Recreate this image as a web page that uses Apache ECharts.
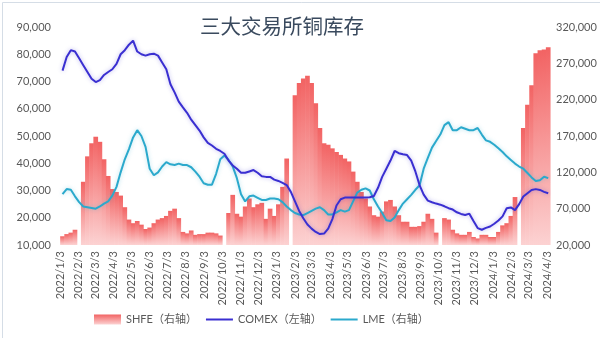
<!DOCTYPE html>
<html>
<head>
<meta charset="utf-8">
<script src="https://cdn.jsdelivr.net/npm/echarts@6/dist/echarts.min.js"></script>
<style>
  html, body { margin: 0; padding: 0; background: #fff; }
  #chart { width: 600px; height: 338px; }
</style>
</head>
<body>
<div id="chart"></div>
<script>
// Weekly observations (week ending Friday), first week ends 2022-01-07
const firstWeek = [2022, 0, 7];

// SHFE copper inventory (tonnes, right axis); null = holiday week
const shfe = [
  32000, 35000, 37000, 41000, null, 107000, 142000, 160000, 169000, 162000,
  138000, 115000, 97000, 93000, 88000, 72000, 55000, 50000, 53000, 48000,
  42000, 44000, 50000, 55000, 57000, 60000, 67000, 70000, 57000, 38000,
  36000, 40000, 34000, 35000, 35000, 37000, 37000, 36000, 33000, null,
  64000, 89000, 63000, 59000, 73000, 84000, 72000, 76000, 78000, 56000,
  70000, 60000, 76000, 100000, 139000, null, 226000, 243000, 249000, 253000,
  243000, 215000, 181000, 160000, 158000, 153000, 148000, 144000, 139000, 135000,
  121000, 107000, 93000, 84000, 73000, 61000, 59000, 66000, 80000, 82000,
  73000, 61000, 52000, 52000, 45000, 45000, 46000, 52000, 63000, 56000,
  37000, null, 57000, 55000, 41000, 36000, 34000, 34000, 38000, 31000,
  29000, 34000, 34000, 31000, 31000, 38000, 47000, 50000, 60000, 86000,
  null, 181000, 213000, 240000, 284000, 288000, 289000, 292000
];

// COMEX copper inventory (short tons, left axis)
const comex = [
  74000, 79000, 81500, 81000, 78500, 76000, 73500, 71000, 69800, 70500,
  72400, 73500, 74500, 76500, 80000, 81500, 83500, 85000, 81000, 80000,
  79500, 80000, 80200, 79500, 77000, 74500, 69000, 66000, 62600, 60500,
  58500, 56000, 54000, 52000, 49500, 47500, 46500, 45300, 44500, 43500,
  41000, 39200, 38000, 36500, 36500, 37000, 37500, 36500, 35200, 35000,
  35000, 34000, 33500, 32800, 32000, 29500, 26000, 22500, 19800, 17500,
  16000, 14800, 14000, 14200, 16000, 19500, 24500, 26800, 27400, 27400,
  27400, 27400, 27400, 27400, 27500, 28000, 31000, 35000, 38000, 41000,
  44500, 43700, 43300, 43000, 41000, 37000, 32000, 28500, 26300, 25700,
  25200, 24800, 24200, 23500, 23000, 22000, 21400, 21000, 21500, 18800,
  16200, 15600, 16300, 16800, 17800, 19000, 20500, 23500, 23800, 22800,
  25000, 27800, 29000, 30200, 30500, 30200, 29500, 29000
];

// LME copper inventory (tonnes, right axis)
const lme = [
  90000, 97000, 96000, 87000, 79000, 73000, 72000, 71000, 70000, 73000,
  77000, 80000, 88000, 100000, 120000, 138000, 152000, 168000, 178000, 170000,
  155000, 125000, 116000, 120000, 128000, 134000, 131000, 130000, 132000, 130000,
  130000, 127000, 121000, 114000, 105000, 103000, 103000, 118000, 138000, 143000,
  137000, 128000, 112000, 90000, 80000, 87000, 88000, 85000, 82000, 82000,
  84000, 84000, 83000, 79000, 73000, 68000, 64000, 62000, 61000, 64000,
  67000, 70000, 72000, 68000, 62000, 62000, 65000, 68000, 66000, 68000,
  80000, 92000, 96000, 98000, 95000, 83000, 73000, 64000, 54000, 53000,
  58000, 68000, 77000, 83000, 89000, 96000, 102000, 125000, 140000, 154000,
  163000, 172000, 185000, 189000, 178000, 178000, 182000, 180000, 178000, 178000,
  181000, 172000, 164000, 162000, 158000, 153000, 148000, 142000, 137000, 132000,
  128000, 125000, 119000, 113000, 108000, 109000, 114000, 112000
];

// X-axis tick labels
const tickLabels = [
  '2022/1/3','2022/2/3','2022/3/3','2022/4/3','2022/5/3','2022/6/3','2022/7/3',
  '2022/8/3','2022/9/3','2022/10/3','2022/11/3','2022/12/3','2023/1/3','2023/2/3',
  '2023/3/3','2023/4/3','2023/5/3','2023/6/3','2023/7/3','2023/8/3','2023/9/3',
  '2023/10/3','2023/11/3','2023/12/3','2024/1/3','2024/2/3','2024/3/3','2024/4/3'
];

const seriesNames = ['SHFE（右轴）', 'COMEX（左轴）', 'LME（右轴）'];
const titleText = '三大交易所铜库存';

function parseLabel(s) {
  const p = s.split('/').map(Number);
  return new Date(p[0], p[1] - 1, p[2]).getTime();
}
const tickValues = tickLabels.map(parseLabel);
const dates = shfe.map((_, i) => new Date(firstWeek[0], firstWeek[1], firstWeek[2] + 7 * i).getTime());
const pair = arr => arr.map((v, i) => [dates[i], v]);

const font = "Lato, 'Noto Sans CJK SC', sans-serif";
const lineIcon = 'path://M0,0 L27,0 L27,2 L0,2 Z';
const chart = echarts.init(document.getElementById('chart'), null, { renderer: 'canvas' });
chart.setOption({
  animation: false,
  backgroundColor: '#ffffff',
  graphic: [{
    type: 'rect', left: 0, top: 0, silent: true,
    shape: { x: 0.5, y: 0.5, width: 599, height: 337 },
    style: { fill: 'none', stroke: '#d5dde6', lineWidth: 1 }
  }],
  title: {
    text: titleText,
    left: 195, top: 11,
    textStyle: { fontFamily: "'Noto Sans CJK SC', sans-serif", fontSize: 20.5, fontWeight: 'normal', color: '#3a4a5e' }
  },
  legend: {
    left: 89, top: 309,
    itemWidth: 27, itemHeight: 10, itemGap: 9,
    textStyle: { fontFamily: font, fontSize: 11, color: '#595959' },
    data: [
      { name: seriesNames[0], icon: 'rect' },
      { name: seriesNames[1], icon: lineIcon },
      { name: seriesNames[2], icon: lineIcon }
    ]
  },
  grid: { left: 56, right: 50, top: 27, bottom: 93, containLabel: false },
  xAxis: {
    type: 'value',
    min: new Date(2021, 11, 27).getTime(),
    max: new Date(2024, 3, 8).getTime(),
    axisLine: { show: false },
    axisTick: { show: false },
    splitLine: { show: false },
    axisLabel: {
      customValues: tickValues,
      rotate: 90,
      margin: 6,
      showMinLabel: true, showMaxLabel: true,
      fontFamily: font, fontSize: 11, color: '#595959',
      hideOverlap: false,
      formatter: function (v) {
        const d = new Date(v);
        return d.getFullYear() + '/' + (d.getMonth() + 1) + '/' + d.getDate();
      }
    }
  },
  yAxis: [{
    type: 'value', min: 10000, max: 90000, interval: 10000,
    axisLine: { show: false }, axisTick: { show: false }, splitLine: { show: false },
    axisLabel: { margin: 5, fontFamily: font, fontSize: 11, color: '#595959' }
  }, {
    type: 'value', min: 20000, max: 320000, interval: 50000,
    axisLine: { show: false }, axisTick: { show: false }, splitLine: { show: false },
    axisLabel: { margin: 6, fontFamily: font, fontSize: 11, color: '#595959' }
  }],
  series: [{
    name: seriesNames[0], type: 'bar', yAxisIndex: 1,
    barWidth: 4.7,
    data: pair(shfe),
    itemStyle: {
      color: new echarts.graphic.LinearGradient(0, 0, 0, 1, [
        { offset: 0, color: '#f26363' },
        { offset: 1, color: '#fcd2d2' }
      ])
    },
    z: 1
  }, {
    name: seriesNames[1], type: 'line', yAxisIndex: 0,
    symbol: 'none', data: pair(comex),
    lineStyle: { color: '#3a2fd1', width: 2, shadowColor: 'rgba(58,47,209,0.35)', shadowBlur: 4 },
    itemStyle: { color: '#3a2fd1' },
    z: 3
  }, {
    name: seriesNames[2], type: 'line', yAxisIndex: 1,
    symbol: 'none', data: pair(lme),
    lineStyle: { color: '#2ba9cc', width: 2, shadowColor: 'rgba(43,169,204,0.35)', shadowBlur: 4 },
    itemStyle: { color: '#2ba9cc' },
    z: 2
  }]
});
</script>
</body>
</html>
